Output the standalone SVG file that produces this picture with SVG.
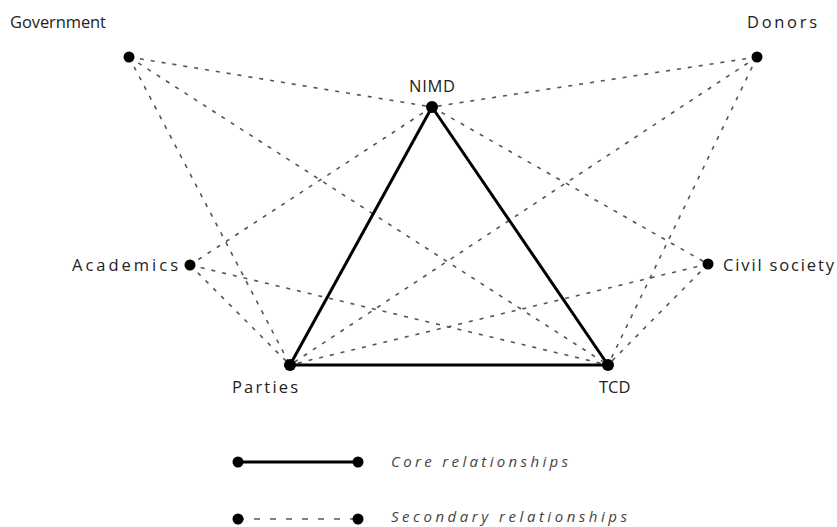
<svg xmlns="http://www.w3.org/2000/svg" width="837" height="527" viewBox="0 0 837 527">
<style>
.lbl{font-family:"Open Sans","DejaVu Sans",sans-serif;font-size:16.5px;fill:#222}
.leg{font-family:"Open Sans","DejaVu Sans",sans-serif;font-size:15px;font-style:italic;fill:#444}
.sec{stroke:#555;stroke-width:1.6;stroke-dasharray:4 7;fill:none}
.core{stroke:#000;stroke-width:3;fill:none}
.dot{fill:#000}
</style>
<rect width="837" height="527" fill="#fff"/>
<g id="connectors">
<line class="sec" x1="129" y1="57" x2="432" y2="107"/>
<line class="sec" x1="129" y1="57" x2="290" y2="365"/>
<line class="sec" x1="129" y1="57" x2="608" y2="365"/>
<line class="sec" x1="757" y1="57" x2="432" y2="107"/>
<line class="sec" x1="757" y1="57" x2="290" y2="365"/>
<line class="sec" x1="757" y1="57" x2="608" y2="365"/>
<line class="sec" x1="432" y1="107" x2="190" y2="265"/>
<line class="sec" x1="432" y1="107" x2="708" y2="264"/>
<line class="sec" x1="190" y1="265" x2="290" y2="365"/>
<line class="sec" x1="190" y1="265" x2="608" y2="365"/>
<line class="sec" x1="708" y1="264" x2="290" y2="365"/>
<line class="sec" x1="708" y1="264" x2="608" y2="365"/>
<line class="core" x1="432" y1="107" x2="290" y2="365"/>
<line class="core" x1="432" y1="107" x2="608" y2="365"/>
<line class="core" x1="290" y1="365" x2="608" y2="365"/>
</g>
<g id="government"><circle class="dot" cx="129" cy="57" r="5.5"/><text class="lbl" x="10" y="28" textLength="96" lengthAdjust="spacing">Government</text></g>
<g id="donors"><circle class="dot" cx="757" cy="57" r="5.5"/><text class="lbl" x="747" y="28" textLength="70" lengthAdjust="spacing">Donors</text></g>
<g id="nimd"><circle class="dot" cx="432" cy="107" r="6"/><text class="lbl" x="409" y="92" textLength="46" lengthAdjust="spacing">NIMD</text></g>
<g id="academics"><circle class="dot" cx="190" cy="265" r="5.5"/><text class="lbl" x="72" y="271" textLength="106" lengthAdjust="spacing">Academics</text></g>
<g id="civil-society"><circle class="dot" cx="708" cy="264" r="5.5"/><text class="lbl" x="723" y="271" textLength="111" lengthAdjust="spacing">Civil society</text></g>
<g id="parties"><circle class="dot" cx="290" cy="365" r="6"/><text class="lbl" x="232" y="393" textLength="66" lengthAdjust="spacing">Parties</text></g>
<g id="tcd"><circle class="dot" cx="608" cy="365" r="6"/><text class="lbl" x="599" y="393">TCD</text></g>
<g id="legend">
<line class="core" x1="238" y1="462" x2="358" y2="462"/>
<circle class="dot" cx="238" cy="462" r="5.5"/><circle class="dot" cx="358" cy="462" r="5.5"/>
<text class="leg" x="391" y="467" textLength="177" lengthAdjust="spacing">Core relationships</text>
<line x1="238" y1="519" x2="358" y2="519" style="stroke:#555;stroke-width:1.6;stroke-dasharray:6 10;fill:none"/>
<circle class="dot" cx="238" cy="519" r="5.5"/><circle class="dot" cx="358" cy="519" r="5.5"/>
<text class="leg" x="391" y="522" textLength="236" lengthAdjust="spacing">Secondary relationships</text>
</g>
</svg>
